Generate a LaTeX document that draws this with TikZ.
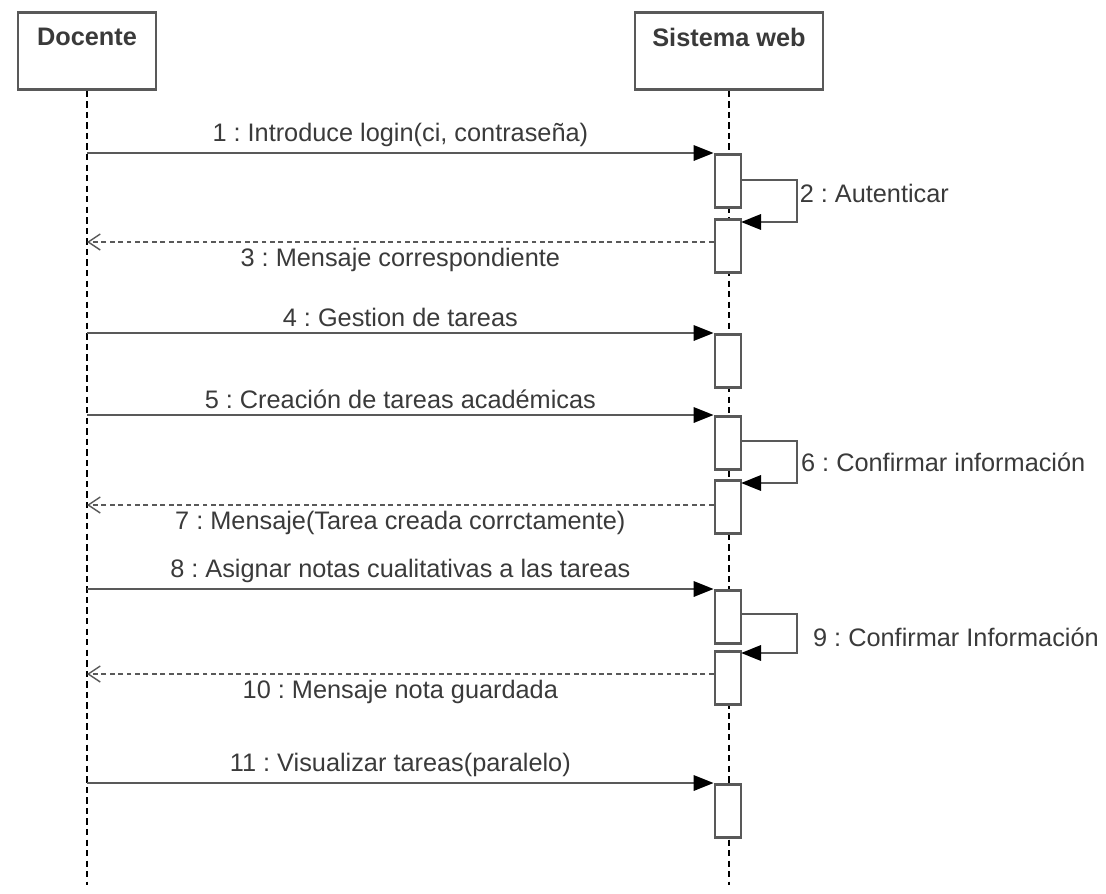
\documentclass[tikz,border=0pt]{standalone}
\usepackage{fontspec}
\setmainfont{Liberation Sans}
\usetikzlibrary{arrows.meta,positioning}
\frenchspacing

\definecolor{linegray}{HTML}{595959}
\definecolor{textgray}{HTML}{3A3A3A}

\tikzset{
	actor/.style={draw=linegray, line width=1.9pt, fill=white, minimum height=1.925cm, anchor=north, inner sep=0pt},
	actorname/.style={font=\fontsize{18}{21}\selectfont\bfseries, text=textgray},
	act/.style={draw=linegray, line width=1.9pt, fill=white, minimum width=0.65cm, minimum height=1.33cm, anchor=north, inner sep=0pt},
	lifeline/.style={black, line width=1pt, dash pattern=on 4.5pt off 3pt},
	call/.style={linegray, line width=1.9pt, -{Triangle[length=0.5cm, width=0.38cm, color=black]}},
	reply/.style={linegray, line width=2pt, dash pattern=on 3.5pt off 2.5pt, -{Straight Barb[length=0.3cm, width=0.4cm, line width=1pt, color=linegray]}},
	msg/.style={font=\fontsize{18}{21}\selectfont, text=textgray}
}

\begin{document}
\begin{tikzpicture}[x=0.025cm, y=-0.025cm]
	%%%%% START %%%%%
	\useasboundingbox (0, 0) rectangle (1106, 894);
	
	\node[actor, minimum width=3.45cm] (docente) at (87, 11) {};
	\node[actorname] (docenteName) at (87, 37) {Docente};
	\node[actor, minimum width=4.7cm] (sistema) at (729, 11) {};
	\node[actorname] (sistemaName) at (729, 37) {Sistema web};
	
	\coordinate (docenteEnd) at (87, 885);
	\coordinate (sistemaEnd) at (729, 885);
	\draw[lifeline] (docente.south) -- (docenteEnd);
	\draw[lifeline] (sistema.south) -- (sistemaEnd);
	
	\node[act] (act1) at (728, 153) {};
	\node[act] (act2) at (728, 218) {};
	\node[act] (act3) at (728, 333) {};
	\node[act] (act4) at (728, 415) {};
	\node[act] (act5) at (728, 479) {};
	\node[act] (act6) at (728, 589) {};
	\node[act] (act7) at (728, 650) {};
	\node[act] (act8) at (728, 783) {};
	
	\coordinate (d1) at (87, 153);
	\coordinate (d3) at (87, 242);
	\coordinate (d4) at (87, 333);
	\coordinate (d5) at (87, 415);
	\coordinate (d7) at (87, 505);
	\coordinate (d8) at (87, 589);
	\coordinate (d10) at (87, 674);
	\coordinate (d11) at (87, 783);
	
	\coordinate (s2) at (741, 180);
	\coordinate (s2e) at (741, 222);
	\coordinate (s6) at (741, 441);
	\coordinate (s6e) at (741, 483);
	\coordinate (s9) at (741, 614);
	\coordinate (s9e) at (741, 653);
	
	%%%%% MENSAJES %%%%%
	
	\draw[call] (d1) -- node[msg, above] (m1) {1 : Introduce login(ci, contraseña)} (act1.north west);
	\draw[call] (s2) -- ++(56, 0) |- node[msg, pos=0.25, right, inner sep=1pt, yshift=0.2cm] (m2) {2 : Autenticar} (s2e);
	\draw[reply] (act2.west |- d3) -- node[msg, below] (m3) {3 : Mensaje correspondiente} (d3);
	
	\draw[call] (d4) -- node[msg, above] (m4) {4 : Gestion de tareas} (act3.north west);
	
	\draw[call] (d5) -- node[msg, above] (m5) {5 : Creación de tareas académicas} (act4.north west);
	\draw[call] (s6) -- ++(56, 0) |- node[msg, pos=0.25, right, inner sep=2pt] (m6) {6 : Confirmar información} (s6e);
	\draw[reply] (act5.west |- d7) -- node[msg, below] (m7) {7 : Mensaje(Tarea creada corrctamente)} (d7);
	
	\draw[call] (d8) -- node[msg, above] (m8) {8 : Asignar notas cualitativas a las tareas} (act6.north west);
	\draw[call] (s9) -- ++(56, 0) |- node[msg, pos=0.25, right, inner sep=2pt, xshift=0.3cm, yshift=-0.1cm] (m9) {9 : Confirmar Información} (s9e);
	\draw[reply] (act7.west |- d10) -- node[msg, below] (m10) {10 : Mensaje nota guardada} (d10);
	
	\draw[call] (d11) -- node[msg, above] (m11) {11 : Visualizar tareas(paralelo)} (act8.north west);
	
	%%%%% END %%%%%
\end{tikzpicture}
\end{document}
